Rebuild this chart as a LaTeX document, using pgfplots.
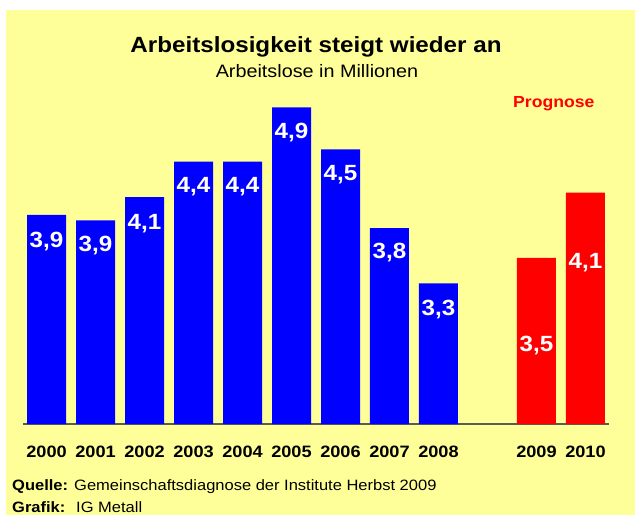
\documentclass[border=0pt]{standalone}
\usepackage{fontspec}
\setmainfont{Liberation Sans}[FakeStretch=1.1]
\usepackage{pgfplots}
\pgfplotsset{compat=1.18}
\definecolor{bgyellow}{RGB}{255,255,153}
\definecolor{barblue}{RGB}{0,0,255}
\definecolor{barred}{RGB}{255,0,0}
\definecolor{axisgray}{RGB}{90,90,90}
\begin{document}
\begin{tikzpicture}[x=1pt,y=1pt]
\fill[white] (0,0) rectangle (635,515);
\fill[bgyellow] (6,0) rectangle (635,505);
\begin{axis}[
  at={(23pt,91pt)}, anchor=south west,
  scale only axis, width=586pt, height=387.45pt,
  xmin=-0.48, xmax=11.48, ymin=2, ymax=5.5,
  axis x line=bottom, axis y line=none,
  x axis line style={-, draw=axisgray, line width=1.5pt},
  xtick={0,1,2,3,4,5,6,7,8,10,11},
  xticklabels={\textbf{2000},\textbf{2001},\textbf{2002},\textbf{2003},\textbf{2004},\textbf{2005},\textbf{2006},\textbf{2007},\textbf{2008},\textbf{2009},\textbf{2010}},
  xticklabel style={font=\fontsize{16.5}{18}\selectfont\bfseries, anchor=base, yshift=-33pt},
  major tick length=0pt,
  ytick=\empty,
  clip=false,
]
\addplot[ybar, bar width=39pt, bar shift=0pt, fill=barblue, draw=none] coordinates {
 (0,3.89) (1,3.84) (2,4.05) (3,4.37) (4,4.37) (5,4.86) (6,4.48) (7,3.77) (8,3.27)};
\addplot[ybar, bar width=39pt, bar shift=0pt, fill=barred, draw=none] coordinates {
 (10,3.50) (11,4.09)};
\addplot[sharp plot, draw=none, mark=none, nodes near coords, point meta=explicit symbolic,
  every node near coord/.append style={anchor=center, inner sep=0pt, text=white,
  font=\fontsize{22}{25}\selectfont\bfseries}]
 table[x=x, y=y, meta=label] {
x y label
0 3.644 3,9
1 3.608 3,9
2 3.807 4,1
3 4.141 4,4
4 4.141 4,4
5 4.629 4,9
6 4.249 4,5
7 3.545 3,8
8 3.030 3,3
10 2.705 3,5
11 3.454 4,1
};
\end{axis}
\node[anchor=base, font=\fontsize{22}{26}\selectfont\bfseries] at (316,462) {Arbeitslosigkeit steigt wieder an};
\node[anchor=base, font=\fontsize{18}{21}\selectfont] at (317,437) {Arbeitslose in Millionen};
\node[anchor=base west, inner sep=0pt, text=barred, font=\fontsize{16}{19}\selectfont\bfseries] at (513,407) {Prognose};
\node[anchor=base west, inner sep=0pt, font=\fontsize{15}{18}\selectfont\bfseries] at (12,25) {Quelle:};
\node[anchor=base west, inner sep=0pt, font=\fontsize{15}{18}\selectfont] at (74,25) {Gemeinschaftsdiagnose der Institute Herbst 2009};
\node[anchor=base west, inner sep=0pt, font=\fontsize{15}{18}\selectfont\bfseries] at (12,3) {Grafik:};
\node[anchor=base west, inner sep=0pt, font=\fontsize{15}{18}\selectfont] at (76,3) {IG Metall};
\end{tikzpicture}
\end{document}
